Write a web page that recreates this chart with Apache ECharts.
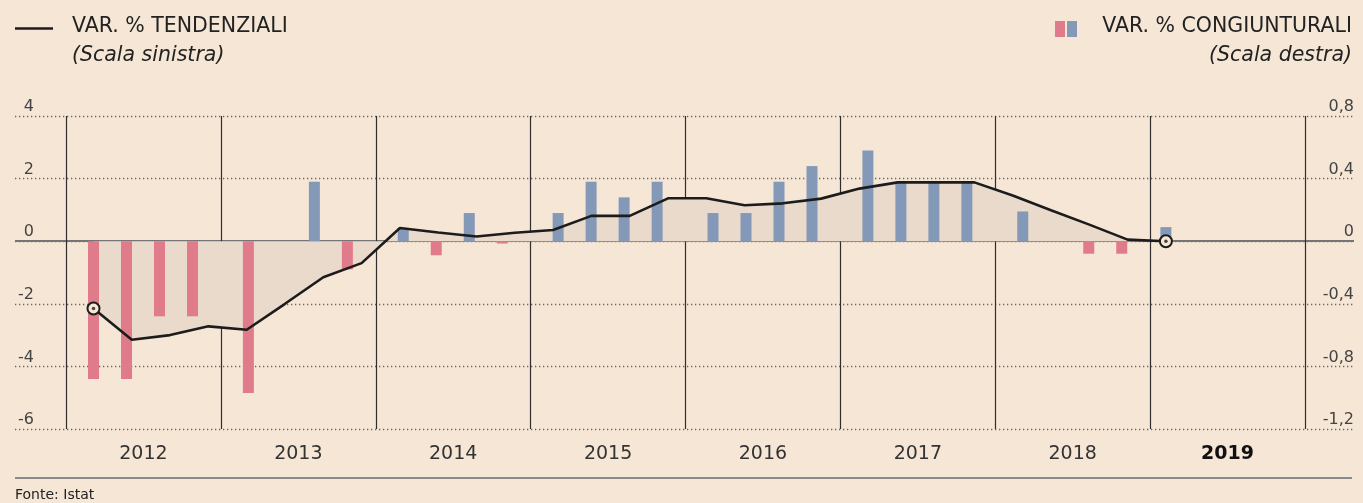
<!DOCTYPE html>
<html>
<head>
<meta charset="utf-8">
<script src="https://cdn.jsdelivr.net/npm/echarts@6/dist/echarts.min.js"></script>
<style>
html, body { margin: 0; padding: 0; background: #f6e6d6; }
#chart { width: 1363px; height: 503px; }
</style>
</head>
<body>
<div id="chart"></div>
<script>
// anni sull'asse x
const years = ['2012', '2013', '2014', '2015', '2016', '2017', '2018', '2019']

// var. % tendenziali, trimestrali 2012 T1 - 2019 T1 (scala sinistra)
const tendenziali = [
  -2.15, -3.15, -3.0, -2.72,
  -2.83, -2.0, -1.15, -0.7,
  0.42, 0.28, 0.15, 0.27,
  0.36, 0.81, 0.81, 1.37,
  1.37, 1.15, 1.21, 1.36,
  1.68, 1.88, 1.88, 1.88,
  1.46, 0.99, 0.53, 0.05,
  0.0
]

// var. % congiunturali, trimestrali (scala destra)
const congiunturali = [
  -0.88, -0.88, -0.48, -0.48,
  -0.97, 0, 0.38, -0.18,
  0.08, -0.09, 0.18, -0.015,
  0.18, 0.38, 0.28, 0.38,
  0.18, 0.18, 0.38, 0.48,
  0.58, 0.38, 0.38, 0.38,
  0.19, 0, -0.08, -0.08,
  0.09
]

// layout (pixel per anno, scostamenti dentro l'anno)
const YEAR_PX = 154.875
const BAR_OFF = 27.5
const BAR_STEP = 33
const LINE_STEP = 38.3

const BG = '#f6e6d6'
const INK = '#1c1c1c'
const RED = '#e07b8c'
const BLUE = '#8499b8'
const FONT = 'DejaVu Sans'

const last = tendenziali.length - 1
const lineX = i => (BAR_OFF + i * LINE_STEP) / YEAR_PX
const barX = i => i === last ? lineX(i) : Math.floor(i / 4) + (BAR_OFF + (i % 4) * BAR_STEP) / YEAR_PX

const lineData = tendenziali.map((v, i) => [lineX(i), v])
const barData = congiunturali.map((v, i) => [barX(i), v])

const myChart = echarts.init(document.getElementById('chart'))

const option = {
  backgroundColor: BG,
  animation: false,
  grid: [
    { left: 15, right: 9, top: 116, bottom: 74 },
    { left: 66, right: 58, top: 116, bottom: 74 }
  ],
  xAxis: [
    { gridIndex: 0, type: 'value', min: 0, max: 1, show: false },
    {
      gridIndex: 1,
      type: 'value',
      min: 0,
      max: 8,
      interval: 1,
      axisLine: { show: false },
      axisTick: { show: false },
      axisLabel: { show: false },
      splitLine: { show: true, lineStyle: { color: '#2e2e2e', width: 1.2 } }
    },
    {
      gridIndex: 1,
      type: 'category',
      position: 'bottom',
      data: years,
      boundaryGap: true,
      axisLine: { show: false },
      axisTick: { show: false },
      splitLine: { show: false },
      axisLabel: {
        margin: 16,
        formatter: v => v === '2019' ? '{b|' + v + '}' : '{n|' + v + '}',
        rich: {
          n: { fontFamily: FONT, fontSize: 19, color: '#333' },
          b: { fontFamily: FONT, fontSize: 19, color: '#111', fontWeight: 'bold' }
        }
      }
    }
  ],
  yAxis: [
    {
      gridIndex: 0,
      type: 'value',
      position: 'left',
      min: -6,
      max: 4,
      interval: 2,
      offset: -19,
      axisLine: { show: false },
      axisTick: { show: false },
      axisLabel: {
        margin: 0,
        verticalAlign: 'bottom',
        lineHeight: 16,
        padding: [0, 0, 1, 0],
        fontFamily: FONT,
        fontSize: 16,
        color: '#444'
      },
      splitLine: { show: true, lineStyle: { color: '#666', width: 1.3, type: [1.3, 2.7] } }
    },
    {
      gridIndex: 0,
      type: 'value',
      position: 'right',
      min: -1.2,
      max: 0.8,
      interval: 0.4,
      axisLine: { show: false },
      axisTick: { show: false },
      axisLabel: {
        inside: true,
        margin: 0,
        verticalAlign: 'bottom',
        lineHeight: 16,
        padding: [0, 0, 1, 0],
        fontFamily: FONT,
        fontSize: 16,
        color: '#444',
        formatter: v => {
          const r = Math.round(v * 10) / 10
          return r === 0 ? '0' : r.toFixed(1).replace('.', ',')
        }
      },
      // solo la linea dello zero, continua
      splitLine: {
        show: true,
        lineStyle: {
          color: ['transparent', 'transparent', 'transparent', '#757575', 'transparent', 'transparent'],
          width: 2
        }
      }
    },
    { gridIndex: 1, type: 'value', min: -6, max: 4, interval: 2, show: false },
    { gridIndex: 1, type: 'value', min: -1.2, max: 0.8, interval: 0.4, show: false }
  ],
  series: [
    {
      name: 'area',
      type: 'line',
      xAxisIndex: 1,
      yAxisIndex: 2,
      data: lineData,
      symbol: 'none',
      lineStyle: { width: 0 },
      areaStyle: { color: '#e9dacb', opacity: 1 },
      silent: true,
      z: 1
    },
    {
      name: 'Var. % congiunturali',
      type: 'bar',
      xAxisIndex: 1,
      yAxisIndex: 3,
      data: barData,
      barWidth: 11,
      itemStyle: {
        color: p => p.value[1] < 0 ? RED : BLUE
      },
      z: 2
    },
    {
      name: 'Var. % tendenziali',
      type: 'line',
      xAxisIndex: 1,
      yAxisIndex: 2,
      data: lineData,
      showSymbol: true,
      symbol: (v, p) => (p.dataIndex === 0 || p.dataIndex === last) ? 'circle' : 'none',
      symbolSize: 12,
      itemStyle: { color: BG, borderColor: INK, borderWidth: 2 },
      lineStyle: { color: INK, width: 2.6 },
      z: 3
    },
    {
      name: 'punto',
      type: 'scatter',
      xAxisIndex: 1,
      yAxisIndex: 2,
      data: [lineData[0], lineData[last]],
      symbolSize: 3.5,
      itemStyle: { color: INK },
      silent: true,
      z: 4
    }
  ],
  graphic: [
    { type: 'line', shape: { x1: 15, y1: 28.5, x2: 53, y2: 28.5 }, style: { stroke: INK, lineWidth: 2.5 } },
    {
      type: 'text', x: 72, y: 27,
      style: { text: 'VAR. % TENDENZIALI', font: '20.5px "DejaVu Sans"', fill: '#222', verticalAlign: 'middle' }
    },
    {
      type: 'text', x: 72, y: 55.6,
      style: { text: '(Scala sinistra)', font: 'italic 20.5px "DejaVu Sans"', fill: '#222', verticalAlign: 'middle' }
    },
    { type: 'rect', shape: { x: 1055, y: 21, width: 10, height: 16 }, style: { fill: RED } },
    { type: 'rect', shape: { x: 1067, y: 21, width: 10, height: 16 }, style: { fill: BLUE } },
    {
      type: 'text', x: 1352, y: 27,
      style: { text: 'VAR. % CONGIUNTURALI', font: '20.5px "DejaVu Sans"', fill: '#222', align: 'right', verticalAlign: 'middle' }
    },
    {
      type: 'text', x: 1352, y: 55.6,
      style: { text: '(Scala destra)', font: 'italic 20.5px "DejaVu Sans"', fill: '#222', align: 'right', verticalAlign: 'middle' }
    },
    { type: 'line', shape: { x1: 15, y1: 478, x2: 1352, y2: 478 }, style: { stroke: '#8a8a8a', lineWidth: 2 } },
    {
      type: 'text', x: 15, y: 495,
      style: { text: 'Fonte: Istat', font: '14px "DejaVu Sans"', fill: '#222', verticalAlign: 'middle' }
    }
  ]
}

myChart.setOption(option)
window.onresize = myChart.resize
</script>
</body>
</html>
